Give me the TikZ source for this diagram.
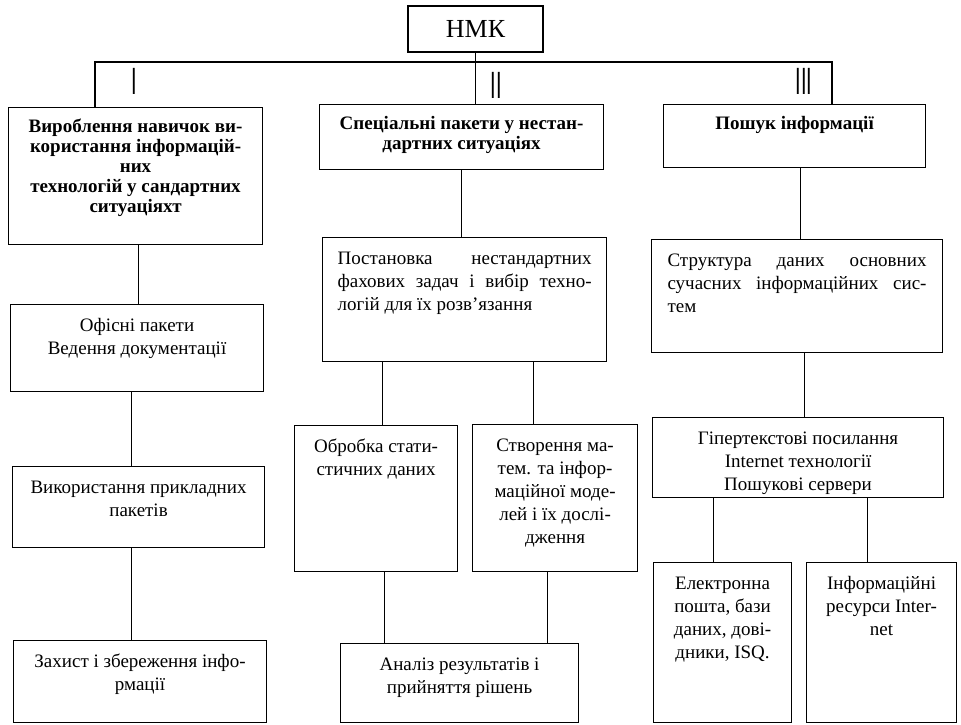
\documentclass[tikz,border=0pt]{standalone}
\usepackage{fontspec}
\setmainfont{Liberation Serif}
\setsansfont{Liberation Sans}
\usetikzlibrary{positioning}

\newcommand{\cellbox}[4]{\parbox[t][#2][t]{#1}{#3\strut #4}}

\begin{document}
\begin{tikzpicture}[x=1pt,y=-1pt,
    blk/.style={draw, line width=1.1pt, anchor=north west, inner xsep=7pt, inner ysep=11pt},
    head/.style={blk, font=\fontsize{19}{20}\selectfont\bfseries},
    num/.style={inner sep=0pt, font=\fontsize{20}{20}\sffamily},
    font=\fontsize{19}{23}\selectfont, line width=1.1pt]
      \useasboundingbox (0,0) rectangle (961,724);
      \node[draw, minimum width=135pt, minimum height=46pt, inner sep=0pt,
        font=\fontsize{26}{26}\selectfont] (nmk) at (475.5,29) {НМК};
      \coordinate (bl) at (95,62);
      \coordinate (br) at (832,62);
      \node[num] (n1) at (134,81) {\scalebox{1}[1.9]{I}};
      \node[num] (n2) at (496,85) {\scalebox{1}[1.9]{II}};
      \node[num] (n3) at (804,81) {\scalebox{1}[1.9]{III}};
      % first column
      \node[head] (b1) at (8,107) {\cellbox{240pt}{115pt}{\centering}{Вироблення навичок ви-\\користання інформацій-\\них\\технологій у сандартних\\ситуаціяхт}};
      \node[blk] (b2) at (10,304) {\cellbox{239pt}{65pt}{\centering}{Офісні пакети\\Ведення документації}};
      \node[blk] (b3) at (12,466) {\cellbox{238pt}{59pt}{\centering}{Використання прикладних\\пакетів}};
      \node[blk] (b4) at (13,640) {\cellbox{239pt}{60pt}{\centering}{Захист і збереження інфо-\\рмації}};
      % second column
      \node[head] (m1) at (319,104) {\cellbox{270pt}{43pt}{\centering}{Спеціальні пакети у нестан-\\дартних ситуаціях}};
      \node[blk, inner xsep=15pt] (m2) at (322,237) {\cellbox{254pt}{102pt}{\relax}{Постановка\hfill нестандартних\\фахових\hfill задач\hfill і\hfill вибір\hfill техно-\\логій для їх розв’язання}};
      \node[blk] (m3) at (294,425) {\cellbox{149pt}{124pt}{\centering}{Обробка стати-\\стичних даних}};
      \node[blk] (m4) at (472,424) {\cellbox{151pt}{125pt}{\centering}{Створення ма-\\тем. та інфор-\\маційної моде-\\лей і їх дослі-\\дження}};
      \node[blk] (m5) at (340,643) {\cellbox{224pt}{57pt}{\centering}{Аналіз результатів і\\прийняття рішень}};
      % third column
      \node[head] (r1) at (663,104) {\cellbox{248pt}{41pt}{\centering}{Пошук інформації}};
      \node[blk, inner xsep=16pt] (r2) at (651,239) {\cellbox{259pt}{91pt}{\relax}{Структура\hfill даних\hfill основних\\сучасних\hfill інформаційних\hfill сис-\\тем}};
      \node[blk] (r3) at (652,417) {\cellbox{277pt}{58pt}{\centering}{Гіпертекстові посилання\\Internet технології\\Пошукові сервери}};
      \node[blk] (r4) at (653,562) {\cellbox{124pt}{138pt}{\centering}{Електронна\\пошта, бази\\даних, дові-\\дники, ISQ.}};
      \node[blk] (r5) at (806,562) {\cellbox{136pt}{138pt}{\centering}{Інформаційні\\ресурси Inter-\\net}};
      \begin{scope}[-]
        \draw (bl |- b1.north) to (bl) to (br) to (br |- r1.north);
        \draw (nmk.south) to (nmk.south |- m1.north);
        \draw ([xshift=3pt]b1.south) to ([xshift=3pt]b1.south |- b2.north);
        \draw ([xshift=-6pt]b2.south) to ([xshift=-6pt]b2.south |- b3.north);
        \draw ([xshift=-7pt]b3.south) to ([xshift=-7pt]b3.south |- b4.north);
        \draw (m1.south) to (m1.south |- m2.north);
        \draw ([xshift=6pt]m3.north |- m2.south) to ([xshift=6pt]m3.north);
        \draw ([xshift=-22pt]m4.north |- m2.south) to ([xshift=-22pt]m4.north);
        \draw ([xshift=8pt]m3.south) to ([xshift=8pt]m3.south |- m5.north);
        \draw ([xshift=-8pt]m4.south) to ([xshift=-8pt]m4.south |- m5.north);
        \draw ([xshift=6pt]r1.south) to ([xshift=6pt]r1.south |- r2.north);
        \draw ([xshift=7pt]r2.south) to ([xshift=7pt]r2.south |- r3.north);
        \draw ([xshift=-9pt]r4.north |- r3.south) to ([xshift=-9pt]r4.north);
        \draw ([xshift=-14pt]r5.north |- r3.south) to ([xshift=-14pt]r5.north);
      \end{scope}
    \end{tikzpicture}
\end{document}
